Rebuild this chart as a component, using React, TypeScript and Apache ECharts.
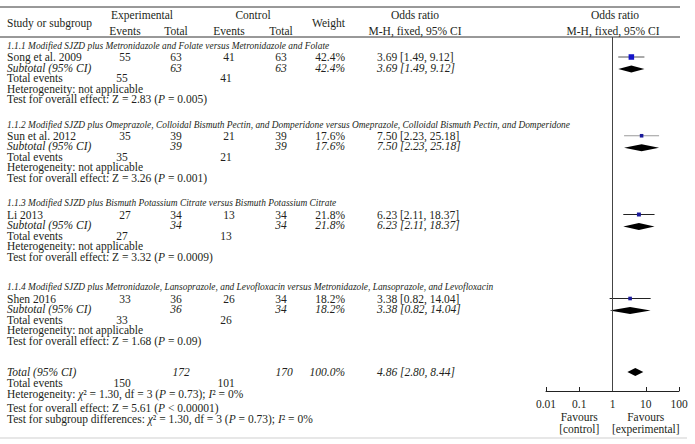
import React, { useEffect, useRef } from "react";
import * as echarts from "echarts";

// ---------- data ----------
const subgroupTitles = [
  "1.1.1 Modified SJZD plus Metronidazole and Folate versus Metronidazole and Folate",
  "1.1.2 Modified SJZD plus Omeprazole, Colloidal Bismuth Pectin, and Domperidone versus Omeprazole, Colloidal Bismuth Pectin, and Domperidone",
  "1.1.3 Modified SJZD plus Bismuth Potassium Citrate versus Bismuth Potassium Citrate",
  "1.1.4 Modified SJZD plus Metronidazole, Lansoprazole, and Levofloxacin versus Metronidazole, Lansoprazole, and Levofloxacin",
];
const studies = ["Song et al. 2009", "Sun et al. 2012", "Li 2013", "Shen 2016"];
const expEvents = [55, 35, 27, 33];
const expTotal = [63, 39, 34, 36];
const ctrlEvents = [41, 21, 13, 26];
const ctrlTotal = [63, 39, 34, 34];
const weights = [42.4, 17.6, 21.8, 18.2];
const oddsRatio = [3.69, 7.5, 6.23, 3.38];
const ciLow = [1.49, 2.23, 2.11, 0.82];
const ciHigh = [9.12, 25.18, 18.37, 14.04];
const effectZ = ["2.83", "3.26", "3.32", "1.68"];
const effectP = ["0.005", "0.001", "0.0009", "0.09"];
const totalExpEvents = 150;
const totalExp = 172;
const totalCtrlEvents = 101;
const totalCtrl = 170;
const totalOR = 4.86;
const totalLow = 2.8;
const totalHigh = 8.44;
const tickLabels = ["0.01", "0.1", "1", "10", "100"];

// ---------- layout ----------
const ROW0 = 57;
const ROWH = 10.5;
const studySlot = [0, 7.5, 15, 23];
const totalSlot = 30;
const FONT = "'Liberation Serif', 'Times New Roman', serif";
const FS = 11.5;
const TXT = "#231f20";
const ciColors = ["#555555", "#9a9a9a", "#222222", "#222222"];
const sqColors = ["#1414c8", "#1a1a9a", "#1a1a9a", "#1a1a9a"];
const GRID_L = 546;
const GRID_W = 133;
const GRID_T = 37;
const GRID_B = 391;

const Y = (slot: number) => ROW0 + slot * ROWH;
const fmtOR = (o: number, l: number, h: number) =>
  `${o.toFixed(2)} [${l.toFixed(2)}, ${h.toFixed(2)}]`;
const xOf = (v: number) => GRID_L + ((Math.log10(v) + 2) / 4) * GRID_W;

const rich = {
  i: { fontStyle: "italic", fontFamily: FONT, fontSize: FS, fill: TXT, color: TXT },
};

function t(
  x: number,
  y: number,
  text: string,
  align: "left" | "center" | "right" = "left",
  opts: any = {}
) {
  return {
    type: "text",
    x,
    y,
    silent: true,
    style: {
      text,
      x: 0,
      y: 0,
      fill: TXT,
      fontFamily: FONT,
      fontSize: FS,
      align,
      verticalAlign: "middle",
      rich,
      ...opts,
    },
  };
}

const C = { label: 7, expEv: 125, expTot: 176, ctrlEv: 229, ctrlTot: 281, weight: 345, or: 377 };

function buildGraphics() {
  const g: any[] = [];
  const it = { fontStyle: "italic" };
  // rules
  g.push({ type: "line", silent: true, shape: { x1: 0, y1: 7, x2: 680, y2: 7 }, style: { stroke: "#333", lineWidth: 1 } });
  g.push({ type: "line", silent: true, shape: { x1: 0, y1: 37, x2: 680, y2: 37 }, style: { stroke: "#333", lineWidth: 1 } });
  g.push({ type: "line", silent: true, shape: { x1: 0, y1: 438, x2: 687, y2: 438 }, style: { stroke: "#cfcfcf", lineWidth: 1 } });
  // header
  g.push(t(142, 15, "Experimental", "center"));
  g.push(t(253, 15, "Control", "center"));
  g.push(t(C.label, 23, "Study or subgroup"));
  g.push(t(C.weight, 23, "Weight", "right"));
  g.push(t(C.expEv, 31, "Events", "center"));
  g.push(t(C.expTot, 31, "Total", "center"));
  g.push(t(C.ctrlEv, 31, "Events", "center"));
  g.push(t(C.ctrlTot, 31, "Total", "center"));
  g.push(t(415, 15, "Odds ratio", "center"));
  g.push(t(415, 31, "M-H, fixed, 95% CI", "center"));
  g.push(t(615, 15, "Odds ratio", "center"));
  g.push(t(613, 31, "M-H, fixed, 95% CI", "center"));

  studies.forEach((name, k) => {
    const s = studySlot[k];
    g.push(t(C.label, Y(s - 1.05), subgroupTitles[k], "left", { fontStyle: "italic", fontSize: 9.4 }));
    // study row
    g.push(t(C.label, Y(s), name));
    g.push(t(C.expEv, Y(s), String(expEvents[k]), "center"));
    g.push(t(C.expTot, Y(s), String(expTotal[k]), "center"));
    g.push(t(C.ctrlEv, Y(s), String(ctrlEvents[k]), "center"));
    g.push(t(C.ctrlTot, Y(s), String(ctrlTotal[k]), "center"));
    g.push(t(C.weight, Y(s), `${weights[k].toFixed(1)}%`, "right"));
    g.push(t(C.or, Y(s), fmtOR(oddsRatio[k], ciLow[k], ciHigh[k])));
    // subtotal row
    g.push(t(C.label, Y(s + 1), "Subtotal (95% CI)", "left", it));
    g.push(t(C.expTot, Y(s + 1), String(expTotal[k]), "center", it));
    g.push(t(C.ctrlTot, Y(s + 1), String(ctrlTotal[k]), "center", it));
    g.push(t(C.weight, Y(s + 1), `${weights[k].toFixed(1)}%`, "right", it));
    g.push(t(C.or, Y(s + 1), fmtOR(oddsRatio[k], ciLow[k], ciHigh[k]), "left", it));
    // total events
    g.push(t(C.label, Y(s + 2), "Total events"));
    g.push(t(C.expEv - 3, Y(s + 2), String(expEvents[k]), "center"));
    g.push(t(C.ctrlEv - 3, Y(s + 2), String(ctrlEvents[k]), "center"));
    g.push(t(C.label, Y(s + 3), "Heterogeneity: not applicable"));
    g.push(t(C.label, Y(s + 4), `Test for overall effect: Z = ${effectZ[k]} ({i|P} = ${effectP[k]})`));
  });

  // overall rows
  const ty = Y(totalSlot);
  g.push(t(C.label, ty, "Total (95% CI)", "left", it));
  g.push(t(C.expTot + 5, ty, String(totalExp), "center", it));
  g.push(t(C.ctrlTot + 3, ty, String(totalCtrl), "center", it));
  g.push(t(C.weight, ty, "100.0%", "right", it));
  g.push(t(C.or, ty, fmtOR(totalOR, totalLow, totalHigh), "left", it));
  g.push(t(C.label, ty + 10.5, "Total events"));
  g.push(t(C.expEv - 3, ty + 10.5, String(totalExpEvents), "center"));
  g.push(t(C.ctrlEv - 3, ty + 10.5, String(totalCtrlEvents), "center"));
  g.push(t(C.label, ty + 22, "Heterogeneity: {i|\u03c7}\u00b2 = 1.30, df = 3 ({i|P} = 0.73); {i|I}\u00b2 = 0%"));
  g.push(t(C.label, ty + 35.5, "Test for overall effect: Z = 5.61 ({i|P} < 0.00001)"));
  g.push(t(C.label, ty + 47, "Test for subgroup differences: {i|\u03c7}\u00b2 = 1.30, df = 3 ({i|P} = 0.73); {i|I}\u00b2 = 0%"));

  // favours labels
  g.push(t(xOf(0.1), 416.5, "Favours", "center"));
  g.push(t(xOf(0.1), 429, "[control]", "center"));
  g.push(t(xOf(10), 416.5, "Favours", "center"));
  g.push(t(xOf(10), 429, "[experimental]", "center"));
  return g;
}

export default function App() {
  const ref = useRef<HTMLDivElement>(null);
  useEffect(() => {
    if (!ref.current) return;
    const chart = echarts.init(ref.current, null, { renderer: "svg" });

    const forestData: any[] = [];
    studies.forEach((_, k) => {
      forestData.push([oddsRatio[k], ciLow[k], ciHigh[k], studySlot[k], weights[k], 0, k]);
      forestData.push([oddsRatio[k], ciLow[k], ciHigh[k], studySlot[k] + 1.15, weights[k], 1, k]);
    });
    forestData.push([totalOR, totalLow, totalHigh, totalSlot, 100, 2, 0]);

    const yMin = (GRID_T - ROW0) / ROWH;
    const yMax = (GRID_B - ROW0) / ROWH;

    chart.setOption({
      animation: false,
      backgroundColor: "#ffffff",
      grid: { left: GRID_L, width: GRID_W, top: GRID_T, height: GRID_B - GRID_T, containLabel: false },
      xAxis: {
        type: "log",
        logBase: 10,
        min: 0.01,
        max: 100,
        axisLine: { show: true, onZero: false, lineStyle: { color: "#222", width: 1 } },
        axisTick: { show: true, inside: true, length: 4, lineStyle: { color: "#222" } },
        axisLabel: {
          color: TXT,
          fontFamily: FONT,
          fontSize: FS,
          margin: 7,
          formatter: (_v: number, i: number) => tickLabels[i],
        },
        splitLine: { show: false },
      },
      yAxis: { type: "value", inverse: true, min: yMin, max: yMax, show: false },
      graphic: buildGraphics(),
      series: [
        {
          type: "custom",
          silent: true,
          clip: false,
          encode: { x: 0, y: 3 },
          data: forestData,
          renderItem: (_p: any, api: any) => {
            const o = api.value(0);
            const lo = api.value(1);
            const hi = api.value(2);
            const y = api.value(3);
            const w = api.value(4);
            const kind = api.value(5);
            const idx = api.value(6);
            const pc = api.coord([o, y]);
            const pl = api.coord([lo, y]);
            const ph = api.coord([hi, y]);
            if (kind === 0) {
              const s = 0.85 * Math.sqrt(w);
              return {
                type: "group",
                children: [
                  { type: "line", shape: { x1: pl[0], y1: pl[1], x2: ph[0], y2: ph[1] }, style: { stroke: ciColors[idx], lineWidth: 1 } },
                  { type: "rect", shape: { x: pc[0] - s / 2, y: pc[1] - s / 2, width: s, height: s }, style: { fill: sqColors[idx] } },
                ],
              };
            }
            const h = kind === 2 ? 8 : 7;
            return {
              type: "polygon",
              shape: { points: [[pl[0], pl[1]], [pc[0], pc[1] - h / 2], [ph[0], ph[1]], [pc[0], pc[1] + h / 2]] },
              style: { fill: "#000" },
            };
          },
          markLine: {
            silent: true,
            symbol: "none",
            label: { show: false },
            lineStyle: { color: "#444", type: "solid", width: 1 },
            data: [{ xAxis: 1 }],
          },
        },
      ],
    });
    return () => chart.dispose();
  }, []);
  return (
    <div
      ref={ref}
      style={{ position: "fixed", left: 0, top: 0, width: 695, height: 444, background: "#fff" }}
    />
  );
}
